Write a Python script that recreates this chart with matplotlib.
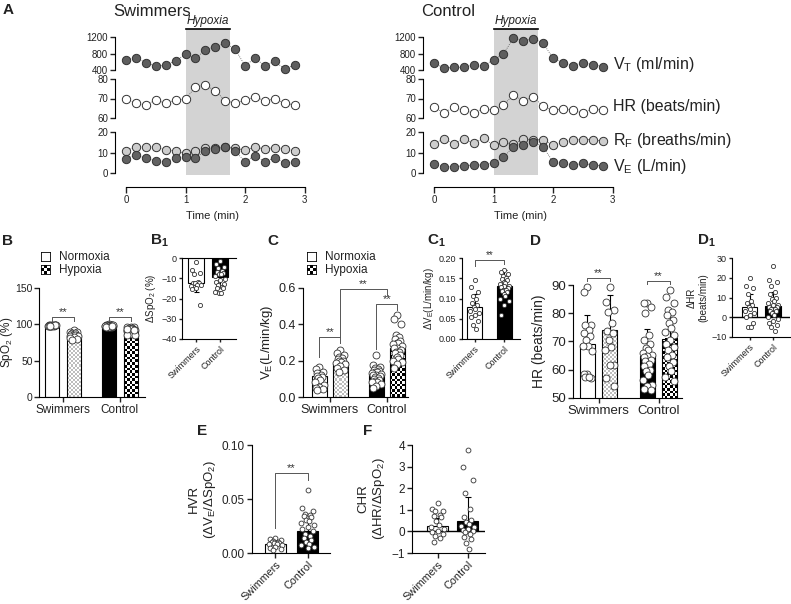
import numpy as np
import matplotlib
matplotlib.use("Agg")
import matplotlib.pyplot as plt
from matplotlib.colors import ListedColormap

plt.rcParams['font.family'] = ['Liberation Sans', 'DejaVu Sans']
plt.rcParams['mathtext.fontset'] = 'custom'
plt.rcParams['mathtext.rm'] = 'Liberation Sans'
plt.rcParams['mathtext.it'] = 'Liberation Sans:italic'
plt.rcParams['mathtext.bf'] = 'Liberation Sans:bold'
plt.rcParams['text.color'] = '#222222'
plt.rcParams['axes.labelcolor'] = '#222222'
plt.rcParams['xtick.color'] = '#222222'
plt.rcParams['ytick.color'] = '#222222'

# ---------------- data: panel A (10 s bins) ----------------
time_min = [0, 0.167, 0.333, 0.5, 0.667, 0.833, 1.0, 1.167, 1.333, 1.5,
            1.667, 1.833, 2.0, 2.167, 2.333, 2.5, 2.667, 2.833]
hypoxia_start, hypoxia_end = 1.0, 1.75

sw_vt = [642, 699, 578, 497, 513, 626, 780, 683, 885, 966, 1046, 909, 505, 683, 505, 610, 424, 521]
sw_hr = [69.7, 67.7, 66.7, 69.1, 67.7, 69.1, 69.7, 75.9, 76.9, 74.0, 68.9, 67.7, 69.1, 70.8, 68.9, 69.7, 67.7, 66.7]
sw_rf = [10.9, 12.8, 12.7, 12.7, 11.2, 10.7, 9.6, 10.7, 12.4, 12.0, 12.8, 12.0, 11.2, 12.7, 11.7, 12.4, 11.9, 10.7]
sw_ve = [7.0, 8.8, 7.3, 6.0, 5.5, 7.2, 7.8, 7.5, 10.7, 11.7, 12.7, 10.9, 5.5, 8.5, 5.5, 7.5, 4.9, 5.5]

ct_vt = [580, 441, 465, 465, 522, 498, 645, 784, 1176, 1110, 1159, 1053, 686, 580, 506, 580, 531, 482]
ct_hr = [65.6, 62.6, 65.6, 63.9, 62.6, 64.8, 63.9, 66.7, 71.8, 68.9, 70.8, 66.0, 63.9, 64.8, 63.9, 62.6, 64.8, 63.9]
ct_rf = [14.1, 16.7, 14.1, 16.7, 14.5, 16.9, 13.5, 15.0, 14.1, 16.7, 16.1, 16.3, 13.5, 15.0, 16.3, 16.3, 16.3, 15.6]
ct_ve = [4.2, 3.1, 3.1, 3.6, 3.9, 3.9, 5.0, 7.6, 12.8, 13.5, 15.3, 12.7, 5.5, 4.7, 3.9, 4.7, 3.9, 3.6]

groups = ['Swimmers', 'Control']

# ---------------- panel B: SpO2 ----------------
spo2_means = [98.5, 86.0, 98.0, 91.0]
spo2_sd = [1.0, 4.0, 1.0, 3.0]
spo2_sw_n = [99, 99, 99, 99, 98, 98, 99, 98, 99, 98, 99, 98, 98, 99, 98]
spo2_sw_h = [92, 90, 89, 88, 88, 87, 86, 86, 85, 84, 84, 83, 81, 80, 78]
spo2_ct_n = [100, 99, 99, 99, 99, 98, 98, 98, 98, 98, 98, 97, 97, 97, 97, 97, 96, 99, 98, 97, 98, 99, 96, 97, 98]
spo2_ct_h = [97, 96, 96, 95, 95, 94, 94, 93, 93, 92, 92, 91, 91, 90, 90, 89, 89, 88, 88, 87, 86, 85, 93, 94, 92]

# ---------------- panel B1: delta SpO2 ----------------
dspo2_means = [-12.2, -9.5]
dspo2_sd = [4.5, 4.5]
dspo2_sw = [-2.2, -5.8, -7.2, -7.8, -11.7, -12.2, -12.5, -12.2, -13.3, -13.7, -13.3, -15.0, -15.5, -23.3]
dspo2_ct = [-1.7, -2.8, -4.2, -5.0, -6.2, -6.7, -7.2, -7.8, -7.8, -8.8, -10.5, -10.8, -11.7, -12.8,
            -13.3, -14.5, -15.0, -15.0, -17.2, -17.2, -16.7]

# ---------------- panel C: VE ----------------
ve_means = [0.115, 0.19, 0.125, 0.27]
ve_sd = [0.04, 0.035, 0.04, 0.07]
ve_sw_n = [0.167, 0.152, 0.14, 0.13, 0.12, 0.116, 0.112, 0.105, 0.094, 0.085, 0.067, 0.057, 0.048, 0.042, 0.039]
ve_sw_h = [0.26, 0.24, 0.23, 0.22, 0.215, 0.21, 0.2, 0.2, 0.19, 0.185, 0.18, 0.17, 0.16, 0.15, 0.14]
ve_ct_n = [0.23, 0.175, 0.165, 0.16, 0.155, 0.15, 0.145, 0.14, 0.135, 0.13, 0.125, 0.12, 0.12, 0.115,
           0.11, 0.105, 0.1, 0.095, 0.09, 0.085, 0.08, 0.07, 0.06, 0.05]
ve_ct_h = [0.45, 0.43, 0.4, 0.34, 0.33, 0.32, 0.31, 0.3, 0.3, 0.29, 0.28, 0.27, 0.27, 0.26, 0.25,
           0.25, 0.24, 0.23, 0.22, 0.21, 0.2, 0.19, 0.18, 0.16]

# ---------------- panel C1: delta VE ----------------
dve_means = [0.078, 0.13]
dve_sd = [0.032, 0.04]
dve_sw = [0.145, 0.128, 0.115, 0.105, 0.1, 0.09, 0.085, 0.08, 0.075, 0.07, 0.065, 0.06, 0.055, 0.045, 0.035, 0.025]
dve_ct = [0.17, 0.165, 0.16, 0.155, 0.15, 0.148, 0.145, 0.14, 0.138, 0.135, 0.132, 0.13, 0.128, 0.125,
          0.122, 0.12, 0.118, 0.115, 0.11, 0.105, 0.1, 0.095, 0.085, 0.06]

# ---------------- panel D: HR ----------------
hr_means = [69.0, 74.0, 65.0, 71.0]
hr_sd = [10.5, 12.5, 9.5, 9.5]
hr_sw_n = [89.4, 87.6, 75.9, 75.9, 74.1, 72.9, 71.8, 70.6, 68.5, 68.5, 66.5, 58.6, 58.6, 57.1, 57.5, 57.5]
hr_sw_h = [89.4, 84.1, 81.2, 80.6, 76.5, 73.8, 72.9, 70.4, 68.2, 67.0, 61.8, 61.8, 57.1, 54.1]
hr_ct_n = [83.5, 83.8, 82.1, 80.0, 72.4, 70.6, 69.2, 67.6, 67.1, 66.1, 65.3, 65.0, 64.5, 63.5, 63.0,
           62.1, 61.2, 60.0, 59.4, 58.2, 56.5, 54.7, 54.1, 53.2, 52.9]
hr_ct_h = [88.2, 85.9, 83.5, 81.2, 80.6, 79.4, 77.6, 76.5, 74.7, 73.5, 72.4, 70.6, 69.2, 68.2, 67.1,
           65.3, 64.5, 62.9, 61.2, 59.4, 57.6, 55.9]

# ---------------- panel D1: delta HR ----------------
dhr_means = [5.0, 5.5]
dhr_sd = [7.0, 7.5]
dhr_sw = [20, 16, 15, 12, 8, 7, 6, 5, 4, 3, 2, 1, 0, -3, -5, -5]
dhr_ct = [26, 19, 18, 16, 13, 12, 10, 9, 8, 7, 6, 6, 5, 5, 4, 4, 3, 3, 2, 1, 0, -1, -2, -3, -4, -5, -7]

# ---------------- panel E: HVR ----------------
hvr_means = [0.008, 0.0205]
hvr_sd = [0.004, 0.011]
hvr_sw = [0.014, 0.013, 0.012, 0.011, 0.010, 0.010, 0.009, 0.009, 0.008, 0.008, 0.007, 0.006, 0.005, 0.004, 0.003]
hvr_ct = [0.058, 0.042, 0.039, 0.036, 0.035, 0.034, 0.033, 0.031, 0.030, 0.028, 0.026, 0.024, 0.022,
          0.020, 0.018, 0.016, 0.014, 0.012, 0.010, 0.008, 0.007, 0.006, 0.005]

# ---------------- panel F: CHR ----------------
chr_means = [0.25, 0.5]
chr_sd = [0.35, 1.07]
chr_sw = [1.3, 1.05, 0.95, 0.95, 0.75, 0.7, 0.65, 0.5, 0.3, 0.2, 0.1, 0.0, -0.05, -0.1, -0.2, -0.3, -0.5]
chr_ct = [3.75, 3.0, 2.4, 1.8, 1.05, 0.65, 0.55, 0.45, 0.35, 0.25, 0.2, 0.1, 0.05, 0.0, -0.05, -0.1,
          -0.25, -0.35, -0.55, -0.8]

W, H = 791, 604
fig = plt.figure(figsize=(W / 100, H / 100), dpi=100)

CHECK_LIGHT = ['white', '#bdbdbd']
CHECK_DARK = ['white', 'black']


def add_ax(x0, y0, x1, y1):
    # pixel box (top-left origin) -> figure axes
    return fig.add_axes([x0 / W, 1 - y1 / H, (x1 - x0) / W, (y1 - y0) / H])


def ftext(x, y, s, **kw):
    # text placed in pixel coords (top-left origin)
    return fig.text(x / W, 1 - y / H, s, **kw)


def clean(ax, left=True, bottom=True):
    ax.spines['top'].set_visible(False)
    ax.spines['right'].set_visible(False)
    ax.spines['left'].set_visible(left)
    ax.spines['bottom'].set_visible(bottom)
    ax.patch.set_visible(False)


def spread(n, w):
    pattern = np.array([0.0, -0.8, 0.8, -0.4, 0.4, -0.6, 0.6, -0.2, 0.2, -1.0, 1.0])
    return pattern[np.arange(n) % len(pattern)] * w


def checker_fill(ax, x0, w, y0, h, colors, cell):
    p0 = ax.transData.transform((x0, y0))
    p1 = ax.transData.transform((x0 + w, y0 + h))
    nx = max(1, int(round(abs(p1[0] - p0[0]) / cell)))
    ny = max(1, int(round(abs(p1[1] - p0[1]) / cell)))
    grid = np.add.outer(np.arange(ny), np.arange(nx)) % 2
    ax.imshow(grid, extent=(x0, x0 + w, y0, y0 + h), origin='lower',
              cmap=ListedColormap(colors), vmin=0, vmax=1,
              interpolation='nearest', aspect='auto', zorder=2)


def bars(ax, centers, means, sds, pts, kinds, width, ms, down=False, cap=2.5):
    xl, yl = ax.get_xlim(), ax.get_ylim()
    for c, m, sd, p, kind in zip(centers, means, sds, pts, kinds):
        if kind == 'light':
            checker_fill(ax, c - width / 2, width, 0, m, CHECK_LIGHT, 2.0)
            ax.bar(c, m, width, facecolor='none', edgecolor='black', lw=0.8, zorder=2.2)
        elif kind == 'dark':
            checker_fill(ax, c - width / 2, width, 0, m, CHECK_DARK, 2.6)
            ax.bar(c, m, width, facecolor='none', edgecolor='black', lw=0.8, zorder=2.2)
        else:
            ax.bar(c, m, width, color=kind, edgecolor='black', lw=0.8, zorder=2)
        yerr = [[sd], [0]] if down else [[0], [sd]]
        ax.errorbar(c, m, yerr=yerr, fmt='none', ecolor='black', elinewidth=0.8,
                    capsize=cap, capthick=0.8, zorder=3)
        xs = c + spread(len(p), width * 0.3)
        ax.plot(xs, p, 'o', ls='none', ms=ms, mfc='white', mec='#333333', mew=0.6,
                zorder=4, clip_on=False)
    ax.set_xlim(xl)
    ax.set_ylim(yl)


def bracket(ax, x1, x2, y, y1_low, y2_low, fs=8):
    ax.plot([x1, x1, x2, x2], [y1_low, y, y, y2_low], color='#555555', lw=0.7,
            clip_on=False, zorder=5)
    ax.text((x1 + x2) / 2, y, '**', ha='center', va='bottom', fontsize=fs,
            color='#333333', clip_on=False)


def style_ticks(ax, fs):
    ax.tick_params(direction='out', length=3.5, width=1.0, labelsize=fs, pad=1.5)


# ---------------- Panel A ----------------
def time_panel(x0, title, vt, hr, rf, ve):
    xl = (-0.185, 3.1)
    x1 = x0 + (xl[1] - xl[0]) * 59.5

    bg = add_ax(x0, 15, x1, 190)
    bg.set_xlim(xl)
    bg.set_ylim(190, 15)
    bg.axis('off')
    bg.fill_between([hypoxia_start, hypoxia_end], 175, 29, color='#d3d3d3', lw=0)
    bg.plot([hypoxia_start, hypoxia_end], [29, 29], color='black', lw=1.2)
    bg.text((hypoxia_start + hypoxia_end) / 2, 27, 'Hypoxia', style='italic',
            ha='center', va='bottom', fontsize=8.5)

    rows = [((37, 70), (400, 1200), [400, 800, 1200], [(vt, '#5e5e5e')]),
            ((79, 118), (60, 80), [60, 70, 80], [(hr, 'white')]),
            ((132, 173), (0, 20), [0, 10, 20], [(rf, '#cdcdcd'), (ve, '#626262')])]
    for (ya, yb), ylim, ticks, series in rows:
        ax = add_ax(x0, ya, x1, yb)
        clean(ax, bottom=False)
        ax.set_xlim(xl)
        ax.set_ylim(ylim)
        ax.set_yticks(ticks)
        ax.set_xticks([])
        style_ticks(ax, 7)
        for vals, col in series:
            ax.plot(time_min, vals, ls=(0, (1, 1.5)), color='#555555', lw=0.6,
                    clip_on=False, zorder=2)
            ax.plot(time_min, vals, 'o', ls='none', ms=6, mfc=col, mec='#333333',
                    mew=0.7, clip_on=False, zorder=3)

    axt = add_ax(x0, 150, x1, 187)
    clean(axt, left=False)
    axt.set_xlim(xl)
    axt.set_yticks([])
    axt.set_xticks([0, 1, 2, 3])
    axt.spines['bottom'].set_bounds(0, 3)
    axt.tick_params(direction='out', length=4, width=1.0, labelsize=7, pad=2)
    axt.set_xlabel('Time (min)', fontsize=8, labelpad=4)

    ftext(x0 - 2, 11, title, fontsize=12, ha='left', va='center')


time_panel(115, 'Swimmers', sw_vt, sw_hr, sw_rf, sw_ve)
time_panel(423, 'Control', ct_vt, ct_hr, ct_rf, ct_ve)

ftext(613, 65, 'V$_\\mathrm{T}$ (ml/min)', fontsize=11.5, va='center')
ftext(613, 107, 'HR (beats/min)', fontsize=11.5, va='center')
ftext(613, 140, 'R$_\\mathrm{F}$ (breaths/min)', fontsize=11.5, va='center')
ftext(613, 166, 'V$_\\mathrm{E}$ (L/min)', fontsize=11.5, va='center')


# ---------------- legends for B and C ----------------
def legend_box(x, y):
    a = add_ax(x, y, x + 9, y + 9)
    a.set_xticks([])
    a.set_yticks([])
    for s in a.spines.values():
        s.set_linewidth(0.6)
    return a


for lx in (41, 307):
    legend_box(lx, 252)
    sw = legend_box(lx, 265)
    sw.imshow(np.add.outer(np.arange(3), np.arange(3)) % 2, cmap=ListedColormap(CHECK_DARK),
              interpolation='nearest', aspect='auto')
    ftext(lx + 18, 257, 'Normoxia', fontsize=8.5, va='center')
    ftext(lx + 18, 270, 'Hypoxia', fontsize=8.5, va='center')

four = [-0.19, 0.19, 0.81, 1.19]
kinds4 = ['white', 'light', 'black', 'dark']

# ---------------- Panel B ----------------
ax = add_ax(39, 288, 145, 397)
clean(ax)
ax.set_xlim(-0.42, 1.44)
ax.set_ylim(0, 150)
ax.set_yticks([0, 50, 100, 150])
ax.set_xticks([0, 1])
ax.set_xticklabels(groups)
style_ticks(ax, 8.5)
ax.tick_params(axis='y', labelsize=7.5, pad=1)
bars(ax, four, spo2_means, spo2_sd, [spo2_sw_n, spo2_sw_h, spo2_ct_n, spo2_ct_h], kinds4, 0.245, 5)
bracket(ax, four[0], four[1], 110, 105, 105)
bracket(ax, four[2], four[3], 110, 105, 105)
ax.set_ylabel('SpO$_2$ (%)', fontsize=8.5)
ax.yaxis.set_label_coords(-0.23, 0.5)

# ---------------- Panel B1 ----------------
ax = add_ax(182, 258, 236, 339)
clean(ax)
ax.spines['top'].set_visible(True)
ax.set_xlim(-0.58, 1.67)
ax.set_ylim(-40, 0)
ax.set_yticks([0, -10, -20, -30, -40])
ax.set_xticks([0, 1])
ax.set_xticklabels(groups, rotation=45, ha='right', rotation_mode='anchor')
style_ticks(ax, 6.5)
ax.tick_params(length=2.5)
bars(ax, [0, 1], dspo2_means, dspo2_sd, [dspo2_sw, dspo2_ct], ['white', 'black'], 0.67, 3,
     down=True, cap=1.8)
ax.set_ylabel('ΔSpO$_2$ (%)', fontsize=7, labelpad=2)

# ---------------- Panel C ----------------
ax = add_ax(303, 288, 408, 397)
clean(ax)
ax.set_xlim(-0.47, 1.37)
ax.set_ylim(0, 0.6)
ax.set_yticks([0, 0.2, 0.4, 0.6])
ax.set_yticklabels(['0.0', '0.2', '0.4', '0.6'])
ax.set_xticks([0, 1])
ax.set_xticklabels(groups)
style_ticks(ax, 9)
c4 = [-0.185, 0.185, 0.815, 1.185]
bars(ax, c4, ve_means, ve_sd, [ve_sw_n, ve_sw_h, ve_ct_n, ve_ct_h], kinds4, 0.26, 5)
bracket(ax, c4[0], c4[1], 0.33, 0.22, 0.30)
bracket(ax, c4[1], 1.0, 0.594, 0.33, 0.56)
bracket(ax, c4[2], c4[3], 0.51, 0.264, 0.48)
ax.set_ylabel('V$_\\mathrm{E}$(L/min/kg)', fontsize=9.5, labelpad=3)

# ---------------- Panel C1 ----------------
ax = add_ax(462, 258, 520, 339)
clean(ax)
ax.set_xlim(-0.42, 1.52)
ax.set_ylim(0, 0.2)
ax.set_yticks([0, 0.05, 0.10, 0.15, 0.20])
ax.set_yticklabels(['0.00', '0.05', '0.10', '0.15', '0.20'])
ax.set_xticks([0, 1])
ax.set_xticklabels(groups, rotation=45, ha='right', rotation_mode='anchor')
style_ticks(ax, 6.5)
ax.tick_params(length=2.5)
bars(ax, [0, 1], dve_means, dve_sd, [dve_sw, dve_ct], ['white', 'black'], 0.5, 3, cap=1.8)
bracket(ax, 0, 1, 0.195, 0.18, 0.185, fs=7)
ax.set_ylabel('ΔV$_\\mathrm{E}$(L/min/kg)', fontsize=7, labelpad=2)

# ---------------- Panel D ----------------
ax = add_ax(573, 285, 682, 398)
clean(ax)
ax.set_xlim(-0.425, 1.39)
ax.set_ylim(50, 90)
ax.set_yticks([50, 60, 70, 80, 90])
ax.set_xticks([0, 1])
ax.set_xticklabels(groups)
style_ticks(ax, 9.5)
bars(ax, four, hr_means, hr_sd, [hr_sw_n, hr_sw_h, hr_ct_n, hr_ct_h], kinds4, 0.25, 5)
bracket(ax, four[0], four[1], 92.6, 91.5, 91.5)
bracket(ax, four[2], four[3], 91.4, 90.3, 90.3)
ax.set_ylabel('HR (beats/min)', fontsize=10, labelpad=4)

# ---------------- Panel D1 ----------------
ax = add_ax(732, 258, 790, 337)
clean(ax)
ax.set_xlim(-0.745, 1.72)
ax.set_ylim(-10, 30)
ax.set_yticks([-10, 0, 10, 20, 30])
ax.set_xticks([0, 1])
ax.set_xticklabels(groups, rotation=45, ha='right', rotation_mode='anchor')
style_ticks(ax, 6.5)
ax.tick_params(length=2.5)
ax.axhline(0, color='black', lw=1.0, zorder=2.5)
bars(ax, [0, 1], dhr_means, dhr_sd, [dhr_sw, dhr_ct], ['white', 'black'], 0.66, 3, cap=1.8)
ax.set_ylabel('ΔHR\n(beats/min)', fontsize=7, labelpad=2)

# ---------------- Panel E ----------------
ax = add_ax(252, 445, 330, 553)
clean(ax)
ax.set_xlim(-0.73, 1.70)
ax.set_ylim(0, 0.1)
ax.set_yticks([0, 0.05, 0.10])
ax.set_yticklabels(['0.00', '0.05', '0.10'])
ax.set_xticks([0, 1])
ax.set_xticklabels(groups, rotation=45, ha='right', rotation_mode='anchor')
style_ticks(ax, 8.5)
ax.tick_params(axis='x', labelsize=7.8, pad=1)
bars(ax, [0, 1], hvr_means, hvr_sd, [hvr_sw, hvr_ct], ['white', 'black'], 0.66, 3.5, cap=2)
bracket(ax, 0, 1, 0.074, 0.023, 0.068)
ax.set_ylabel('HVR\n(ΔV$_\\mathrm{E}$/ΔSpO$_2$)', fontsize=9.5, labelpad=3)

# ---------------- Panel F ----------------
ax = add_ax(412, 445, 485, 553)
clean(ax)
ax.set_xlim(-0.85, 1.58)
ax.set_ylim(-1, 4)
ax.set_yticks([-1, 0, 1, 2, 3, 4])
ax.set_xticks([0, 1])
ax.set_xticklabels(groups, rotation=45, ha='right', rotation_mode='anchor')
style_ticks(ax, 8.5)
ax.tick_params(axis='x', labelsize=7.8, pad=1)
ax.axhline(0, color='black', lw=1.0, zorder=2.5)
bars(ax, [0, 1], chr_means, chr_sd, [chr_sw, chr_ct], ['white', 'black'], 0.7, 3.5, cap=2)
ax.set_ylabel('CHR\n(ΔHR/ΔSpO$_2$)', fontsize=9.5, labelpad=3)

# ---------------- panel letters ----------------
letters = [('A', 3, 10), ('B', 2, 241), ('B$_\\mathbf{1}$', 150, 241), ('C', 267, 241),
           ('C$_\\mathbf{1}$', 427, 241), ('D', 530, 241), ('D$_\\mathbf{1}$', 697, 241),
           ('E', 197, 431), ('F', 363, 431)]
for txt, x, y in letters:
    ftext(x, y, txt, fontsize=11, fontweight='bold', va='center', ha='left')

fig.savefig('out.png', dpi=100)
